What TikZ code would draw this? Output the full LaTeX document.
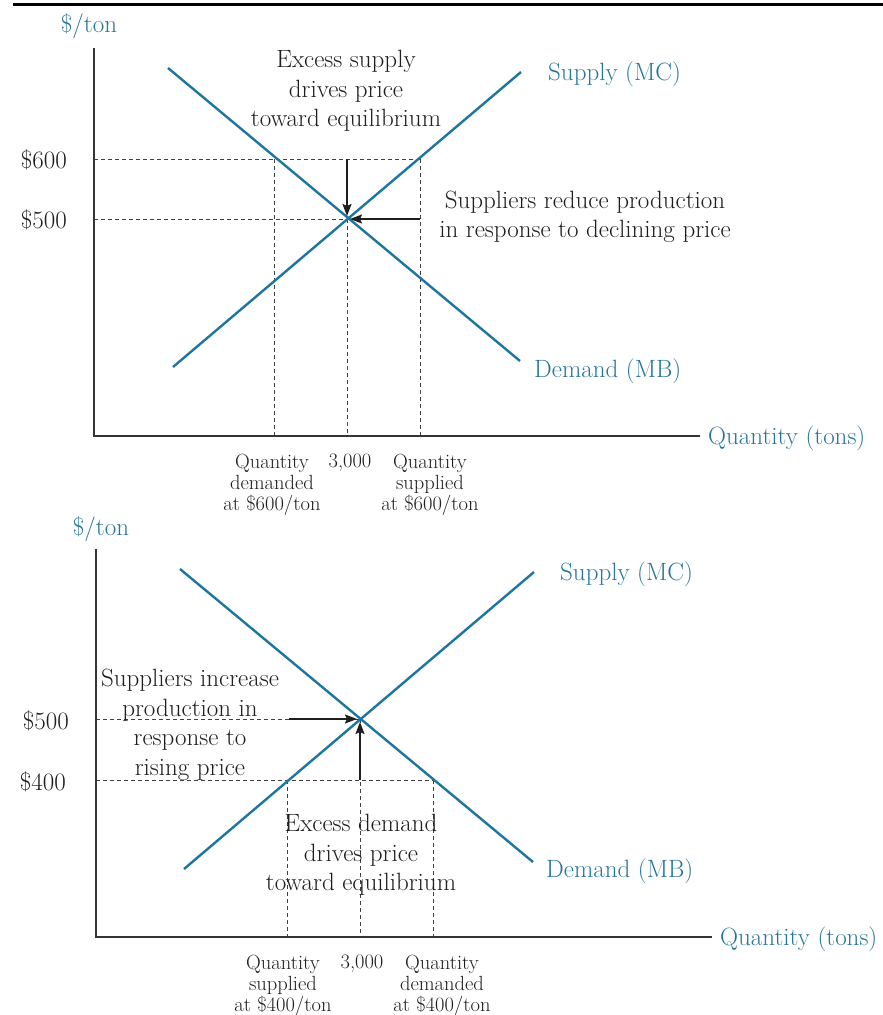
\documentclass[tikz,border=0pt]{standalone}
\usepackage{fontspec}
\usetikzlibrary{arrows.meta}
\definecolor{mblue}{RGB}{30,118,160}
\definecolor{tblue}{RGB}{38,118,155}
\definecolor{ink}{RGB}{30,30,30}
\begin{document}
\begin{tikzpicture}[x=1pt,y=-1pt,
  curve/.style={draw=mblue,line width=2.4pt},
  axisline/.style={draw=ink!90,line width=1.2pt},
  guide/.style={draw=ink!85,dash pattern=on 4pt off 3pt,line width=1pt},
  push/.style={draw=ink,line width=1.8pt,-{Stealth[length=12pt,width=9pt,inset=2pt]},shorten >=3pt},
  lbl/.style={font=\fontsize{25}{29.5}\selectfont,text=ink,align=center,inner sep=0pt},
  blbl/.style={lbl,text=tblue},
  ticklbl/.style={font=\fontsize{20.5}{21}\selectfont,text=ink,align=center,inner sep=0pt}]
\fill[white] (0,0) rectangle (883,1015);
\useasboundingbox (0,0) rectangle (883,1015);
% top rule
\coordinate (r1) at (13,4.5);
\coordinate (r2) at (883,4.5);
\draw[line width=2.8pt,black] (r1) -- (r2);

% ===== top panel =====
\coordinate (O1) at (94,436);
\coordinate (Y1) at (94,48);
\coordinate (X1) at (700,436);
\coordinate (D1a) at (168,68);
\coordinate (D1b) at (520,361);
\coordinate (S1a) at (173,367);
\coordinate (S1b) at (521,72);
\coordinate (E1) at (347,219);
\coordinate (A600) at (94,159);
\coordinate (P600d) at (274,159);
\coordinate (P600m) at (347,159);
\coordinate (P600s) at (420,159);
\coordinate (A500) at (94,219);
\coordinate (P500s) at (420,219);
\coordinate (B1d) at (274,436);
\coordinate (B1m) at (347,436);
\coordinate (B1s) at (420,436);

\draw[guide] (A600) -- (P600s);
\draw[guide] (A500) -- (E1);
\draw[guide] (P600d) -- (B1d);
\draw[guide] (E1) -- (B1m);
\draw[guide] (P600s) -- (B1s);
\draw[axisline] (Y1) -- (O1) -- (X1);
\draw[curve] (D1a) -- (D1b);
\draw[curve] (S1a) -- (S1b);
\draw[push] (P600m) -- (E1);
\draw[push] (P500s) -- (E1);

\node[blbl] (yl1) at (89,26) {\$/ton};
\node[lbl,anchor=east] (p600) at (67,160) {\$600};
\node[lbl,anchor=east] (p500a) at (67,220) {\$500};
\node[lbl] (exs) at (346,91) {Excess supply\\drives price\\toward equilibrium};
\node[lbl] (red) at (585,217) {Suppliers reduce production\\in response to declining price};
\node[blbl,anchor=west] (sup1) at (548,74) {Supply (MC)};
\node[blbl,anchor=west] (dem1) at (534,371) {Demand (MB)};
\node[blbl,anchor=west] (qt1) at (708,438) {Quantity (tons)};
\node[ticklbl,anchor=north] (qd1) at (272,454) {Quantity\\demanded\\at \$600/ton};
\node[ticklbl,anchor=north] (th1) at (350,454) {3,000};
\node[ticklbl,anchor=north] (qs1) at (430,454) {Quantity\\supplied\\at \$600/ton};

% ===== bottom panel =====
\coordinate (O2) at (96,937);
\coordinate (Y2) at (96,549);
\coordinate (X2) at (712,937);
\coordinate (D2a) at (180,569);
\coordinate (D2b) at (533,862);
\coordinate (S2a) at (184,869);
\coordinate (S2b) at (534,572);
\coordinate (E2) at (360,719);
\coordinate (A500b) at (96,719);
\coordinate (T500) at (289,719);
\coordinate (A400) at (96,780);
\coordinate (Q400s) at (287,780);
\coordinate (Q400m) at (360,780);
\coordinate (Q400d) at (433,780);
\coordinate (B2s) at (287,937);
\coordinate (B2m) at (360,937);
\coordinate (B2d) at (433,937);

\draw[guide] (A500b) -- (E2);
\draw[guide] (A400) -- (Q400d);
\draw[guide] (Q400s) -- (B2s);
\draw[guide] (E2) -- (B2m);
\draw[guide] (Q400d) -- (B2d);
\draw[axisline] (Y2) -- (O2) -- (X2);
\draw[curve] (D2a) -- (D2b);
\draw[curve] (S2a) -- (S2b);
\draw[push] (T500) -- (E2);
\draw[push] (Q400m) -- (E2);

\node[blbl] (yl2) at (101,529) {\$/ton};
\node[lbl,anchor=east] (p500b) at (69,721) {\$500};
\node[lbl,anchor=east] (p400) at (66,782) {\$400};
\node[lbl] (inc) at (190,725) {Suppliers increase\\production in\\response to\\rising price};
\node[lbl] (exd) at (361,855) {Excess demand\\drives price\\toward equilibrium};
\node[blbl,anchor=west] (sup2) at (560,574) {Supply (MC)};
\node[blbl,anchor=west] (dem2) at (546,871) {Demand (MB)};
\node[blbl,anchor=west] (qt2) at (720,939) {Quantity (tons)};
\node[ticklbl,anchor=north] (qs2) at (283,955) {Quantity\\supplied\\at \$400/ton};
\node[ticklbl,anchor=north] (th2) at (362,955) {3,000};
\node[ticklbl,anchor=north] (qd2) at (442,955) {Quantity\\demanded\\at \$400/ton};
\end{tikzpicture}
\end{document}
